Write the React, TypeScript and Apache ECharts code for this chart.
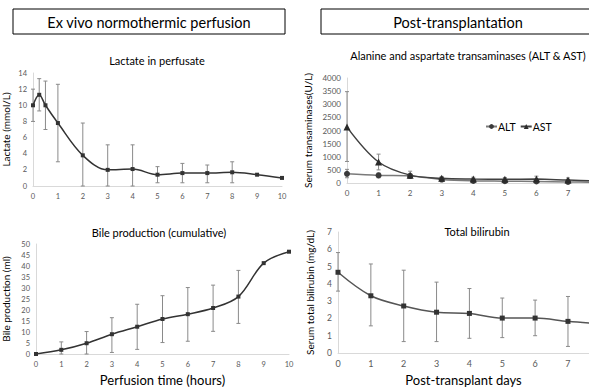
import React, { useEffect, useRef } from "react";
import * as echarts from "echarts";

// ---------- Data ----------
const lactateX = [0, 0.25, 0.5, 1, 2, 3, 4, 5, 6, 7, 8, 9, 10];
const lactateMean = [10, 11.3, 10, 7.8, 3.8, 2.0, 2.1, 1.4, 1.6, 1.6, 1.7, 1.4, 1.0];
const lactateLow = [8, 9.3, 7.0, 3.0, 0, 0, 0, 0.4, 0.4, 0.4, 0.4, null, null];
const lactateHigh = [12, 13.3, 13.0, 12.6, 7.8, 5.1, 5.1, 2.4, 2.8, 2.6, 3.0, null, null];

const bileX = [0, 1, 2, 3, 4, 5, 6, 7, 8, 9, 10];
const bileMean = [0, 1.9, 4.9, 9.0, 12.4, 15.9, 18.1, 20.9, 26.1, 41.3, 46.5];
const bileLow = [null, 0, 0, 0.7, 2.1, 5.2, 5.8, 10.3, 13.9, null, null];
const bileHigh = [null, 5.5, 10.2, 16.5, 22.6, 26.5, 30.2, 31.3, 38.0, null, null];

const days = [0, 1, 2, 3, 4, 5, 6, 7, 8];
const altMean = [350, 290, 270, 130, 80, 70, 60, 40, 30];
const altLow = [200, 200, 180, 90, 40, 30, 20, 10, null];
const altHigh = [520, 380, 350, 200, 130, 120, 110, 90, null];
const astMean = [2130, 800, 300, 180, 150, 140, 150, 110, 80];
const astLow = [820, 500, 200, 120, 90, 80, 60, 50, null];
const astHigh = [3480, 1100, 450, 250, 220, 210, 260, 190, null];

const biliMean = [4.67, 3.31, 2.72, 2.36, 2.29, 2.02, 2.02, 1.83, 1.68];
const biliLow = [3.58, 1.57, 0.66, 0.66, 0.85, 0.89, 1.0, 0.38, null];
const biliHigh = [5.81, 5.15, 4.79, 4.1, 3.73, 3.18, 3.06, 3.27, null];

const headerLeft = "Ex vivo normothermic perfusion";
const headerRight = "Post-transplantation";

const FONT = "Lato";
const LABEL = "#595959";
const AXIS = "#d9d9d9";
const ERR = "#8a8a8a";

function pairs(xs: number[], ys: (number | null)[]) {
  return xs.map((x, i) => [x, ys[i]]);
}

function errorSeries(idx: number, xs: number[], lo: (number | null)[], hi: (number | null)[]) {
  const data = xs
    .map((x, i) => (lo[i] == null || hi[i] == null ? null : [x, lo[i], hi[i]]))
    .filter((d) => d != null);
  return {
    type: "custom",
    xAxisIndex: idx,
    yAxisIndex: idx,
    data,
    silent: true,
    z: 1,
    encode: { x: 0, y: [1, 2] },
    renderItem: (_p: any, api: any) => {
      const x = api.value(0);
      const l = api.value(1);
      const h = api.value(2);
      const a = api.coord([x, h]);
      const b = api.coord([x, l]);
      const w = 2;
      const st = { stroke: ERR, lineWidth: 1 };
      return {
        type: "group",
        children: [
          { type: "line", shape: { x1: a[0], y1: a[1], x2: b[0], y2: b[1] }, style: st },
          { type: "line", shape: { x1: a[0] - w, y1: a[1], x2: a[0] + w, y2: a[1] }, style: st },
          { type: "line", shape: { x1: b[0] - w, y1: b[1], x2: b[0] + w, y2: b[1] }, style: st },
        ],
      };
    },
  };
}

function xAxis(idx: number, max: number, fontSize: number, name?: string, nameGap?: number) {
  return {
    type: "value",
    gridIndex: idx,
    min: 0,
    max,
    interval: 1,
    axisLine: { show: true, lineStyle: { color: AXIS, width: 1 } },
    axisTick: { show: false },
    splitLine: { show: false },
    axisLabel: {
      color: LABEL,
      fontSize,
      fontFamily: FONT,
      margin: 6,
      showMaxLabel: Number.isInteger(max),
      formatter: (v: number) => String(v),
    },
    name: name || "",
    nameLocation: "middle",
    nameGap: nameGap || 20,
    nameTextStyle: { color: "#000", fontSize: 13, fontFamily: FONT },
  };
}

function yAxis(idx: number, max: number, interval: number, fontSize: number, name: string, nameGap: number, nameSize: number) {
  return {
    type: "value",
    gridIndex: idx,
    min: 0,
    max,
    interval,
    axisLine: { show: true, lineStyle: { color: AXIS, width: 1 } },
    axisTick: { show: false },
    splitLine: { show: false },
    axisLabel: { color: LABEL, fontSize, fontFamily: FONT, margin: 6, formatter: (v: number) => String(v) },
    name,
    nameLocation: "middle",
    nameRotate: 90,
    nameGap,
    nameTextStyle: { color: "#000", fontSize: nameSize, fontFamily: FONT },
  };
}

export default function App() {
  const ref = useRef<HTMLDivElement>(null);
  useEffect(() => {
    if (!ref.current) return;
    const chart = echarts.init(ref.current, undefined, { renderer: "svg" });
    const titleStyle = { color: "#000", fontSize: 11, fontWeight: "normal", fontFamily: FONT };
    chart.setOption({
      animation: false,
      backgroundColor: "#fff",
      textStyle: { fontFamily: FONT },
      title: [
        { text: "Lactate in perfusate", left: 152, top: 50, textAlign: "center", textStyle: titleStyle },
        { text: "Alanine and aspartate transaminases (ALT & AST)", left: 463, top: 45, textAlign: "center", textStyle: titleStyle },
        { text: "Bile production (cumulative)", left: 154, top: 222, textAlign: "center", textStyle: titleStyle },
        { text: "Total bilirubin", left: 472, top: 221, textAlign: "center", textStyle: titleStyle },
      ],
      graphic: [
        { type: "rect", shape: { x: 13, y: 9, width: 272, height: 25 }, style: { fill: "#fff", stroke: "#000", lineWidth: 1 } },
        { type: "text", x: 149, y: 22, style: { text: headerLeft, font: `14.5px ${FONT}`, fill: "#000", align: "center", verticalAlign: "middle" } },
        { type: "rect", shape: { x: 321, y: 9, width: 274, height: 25 }, style: { fill: "#fff", stroke: "#000", lineWidth: 1 } },
        { type: "text", x: 458, y: 22, style: { text: headerRight, font: `14.5px ${FONT}`, fill: "#000", align: "center", verticalAlign: "middle" } },
      ],
      legend: {
        left: 480,
        top: 116,
        data: ["ALT", "AST"],
        itemWidth: 11,
        itemHeight: 6,
        itemGap: 4,
        textStyle: { fontSize: 10.5, color: "#000", fontFamily: FONT, padding: [0, 0, 0, -4] },
      },
      grid: [
        { left: 30, top: 73, width: 252, height: 113 },
        { left: 347, top: 78, right: 0, height: 105 },
        { left: 25, top: 244, width: 264, height: 113 },
        { left: 338, top: 232, right: 0, height: 123 },
      ],
      xAxis: [
        xAxis(0, 10, 7.5),
        xAxis(1, 7.665, 8),
        xAxis(2, 10, 7.5, "Perfusion time (hours)", 19),
        xAxis(3, 7.64, 9, "Post-transplant days", 20),
      ],
      yAxis: [
        yAxis(0, 14, 2, 7.5, "Lactate (mmol/L)", 22, 10),
        yAxis(1, 4000, 500, 8, "Serum transaminases(U/L)", 34, 10),
        yAxis(2, 50, 5, 7.5, "Bile production (ml)", 25, 10),
        yAxis(3, 7, 1, 8.5, "Serum total bilirubin (mg/dL)", 23, 10),
      ],
      series: [
        errorSeries(0, lactateX, lactateLow, lactateHigh),
        {
          type: "line",
          xAxisIndex: 0,
          yAxisIndex: 0,
          data: pairs(lactateX, lactateMean),
          smooth: 0.35,
          symbol: "rect",
          symbolSize: 4,
          lineStyle: { color: "#333", width: 1.5 },
          itemStyle: { color: "#333" },
          z: 3,
        },
        errorSeries(1, days, altLow, altHigh),
        errorSeries(1, days, astLow, astHigh),
        {
          name: "ALT",
          type: "line",
          xAxisIndex: 1,
          yAxisIndex: 1,
          data: pairs(days, altMean),
          smooth: 0.35,
          symbol: "circle",
          symbolSize: 6,
          lineStyle: { color: "#7a7a7a", width: 1.5 },
          itemStyle: { color: "#3a3a3a" },
          z: 3,
        },
        {
          name: "AST",
          type: "line",
          xAxisIndex: 1,
          yAxisIndex: 1,
          data: pairs(days, astMean),
          smooth: 0.35,
          symbol: "triangle",
          symbolSize: 7,
          lineStyle: { color: "#404040", width: 1.5 },
          itemStyle: { color: "#2a2a2a" },
          z: 3,
        },
        errorSeries(2, bileX, bileLow, bileHigh),
        {
          type: "line",
          xAxisIndex: 2,
          yAxisIndex: 2,
          data: pairs(bileX, bileMean),
          smooth: 0.35,
          symbol: "rect",
          symbolSize: 4,
          lineStyle: { color: "#333", width: 1.5 },
          itemStyle: { color: "#333" },
          z: 3,
        },
        errorSeries(3, days, biliLow, biliHigh),
        {
          type: "line",
          xAxisIndex: 3,
          yAxisIndex: 3,
          data: pairs(days, biliMean),
          smooth: 0.35,
          symbol: "rect",
          symbolSize: 5,
          lineStyle: { color: "#555", width: 1.5 },
          itemStyle: { color: "#333" },
          z: 3,
        },
      ],
    });
    return () => chart.dispose();
  }, []);
  return (
    <div
      ref={ref}
      style={{ position: "fixed", left: 0, top: 0, width: 589, height: 387, background: "#fff" }}
    />
  );
}
